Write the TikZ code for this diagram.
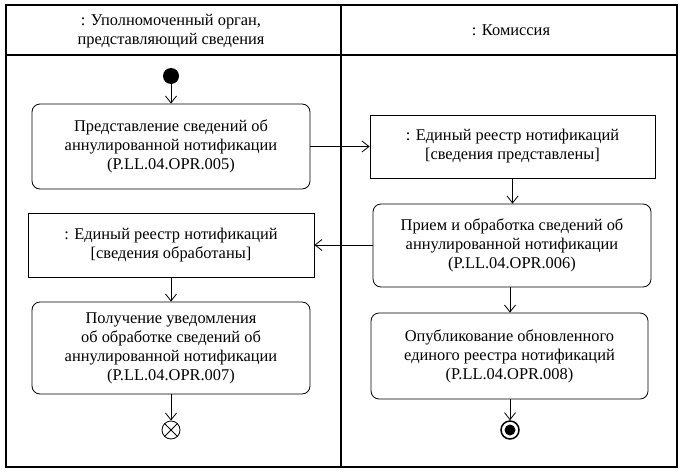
\documentclass[tikz,border=0pt]{standalone}
\usepackage{fontspec}
\setmainfont{Liberation Serif}
\usetikzlibrary{arrows.meta}

\begin{document}
\begin{tikzpicture}[x=1pt,y=-1pt,font=\rmfamily\fontsize{16.4}{19}\selectfont,act/.style={shape=rectangle,draw=black,line width=0.8pt,rounded corners=8pt,align=center,inner sep=0pt},obj/.style={shape=rectangle,draw=black,line width=0.8pt,align=center,inner sep=0pt},flow/.style={draw=black,line width=0.8pt,-{Straight Barb[length=7pt,width=11pt]}},initN/.style={shape=circle,fill=black,minimum size=16pt,inner sep=0pt},finalN/.style={shape=circle,draw=black,line width=0.8pt,minimum size=18pt,inner sep=0pt},lane/.style={draw=black,line width=1.3pt}]
\def\xl{171};
\def\xr{511};
\def\wa{278};
\def\wb{286};

\useasboundingbox (0,0) rectangle (682,474);

% swimlanes
\draw[lane] (6,5) rectangle (677,467);
\draw[lane] (6,55) -- (677,55);
\draw[lane] (341,5) -- (341,467);
\node[align=center] (laneA) at (\xl,31) {: Уполномоченный орган,\\представляющий сведения};
\node (laneB) at (\xr,30) {: Комиссия};

% nodes
\node[initN] (start) at (\xl,76) {};
\node[act,minimum width=\wa,minimum height=85] (a5) at (\xl,146.5) {Представление сведений об\\аннулированной нотификации\\(P.LL.04.OPR.005)};
\node[obj,minimum width=285,minimum height=63] (regA) at (512.5,146.5) {: Единый реестр нотификаций\\{[}сведения представлены{]}};
\node[act,minimum width=\wa,minimum height=83] (a6) at (512,245.5) {Прием и обработка сведений об\\аннулированной нотификации\\(P.LL.04.OPR.006)};
\node[obj,minimum width=\wb,minimum height=64] (regB) at (\xl,245) {: Единый реестр нотификаций\\{[}сведения обработаны{]}};
\node[act,minimum width=\wa,minimum height=92] (a7) at (\xl,348) {Получение уведомления\\об обработке сведений об\\аннулированной нотификации\\(P.LL.04.OPR.007)};
\node[act,minimum width=277,minimum height=86] (a8) at (509.5,356) {Опубликование обновленного\\единого реестра нотификаций\\(P.LL.04.OPR.008)};
\node[finalN] (ff) at (\xl,430) {};
\draw[line width=0.8pt] (ff.45) -- (ff.225) (ff.135) -- (ff.315);
\node[finalN,line width=1.5pt] (fin) at (510,430) {};
\node[initN,minimum size=11pt] (finIn) at (fin) {};

% connectors
\draw[flow] (start) -- (a5);
\draw[flow] (a5) -- (regA);
\draw[flow] (regA) -- (regA|-a6.north);
\draw[flow] (a6.west|-regB) -- (regB);
\draw[flow] (a6.south-|fin) -- (a8.north-|fin);
\draw[flow] (regB) -- (a7);
\draw[flow] (a7) -- (ff);
\draw[flow] (a8.south-|fin) -- (fin);

\end{tikzpicture}
\end{document}
